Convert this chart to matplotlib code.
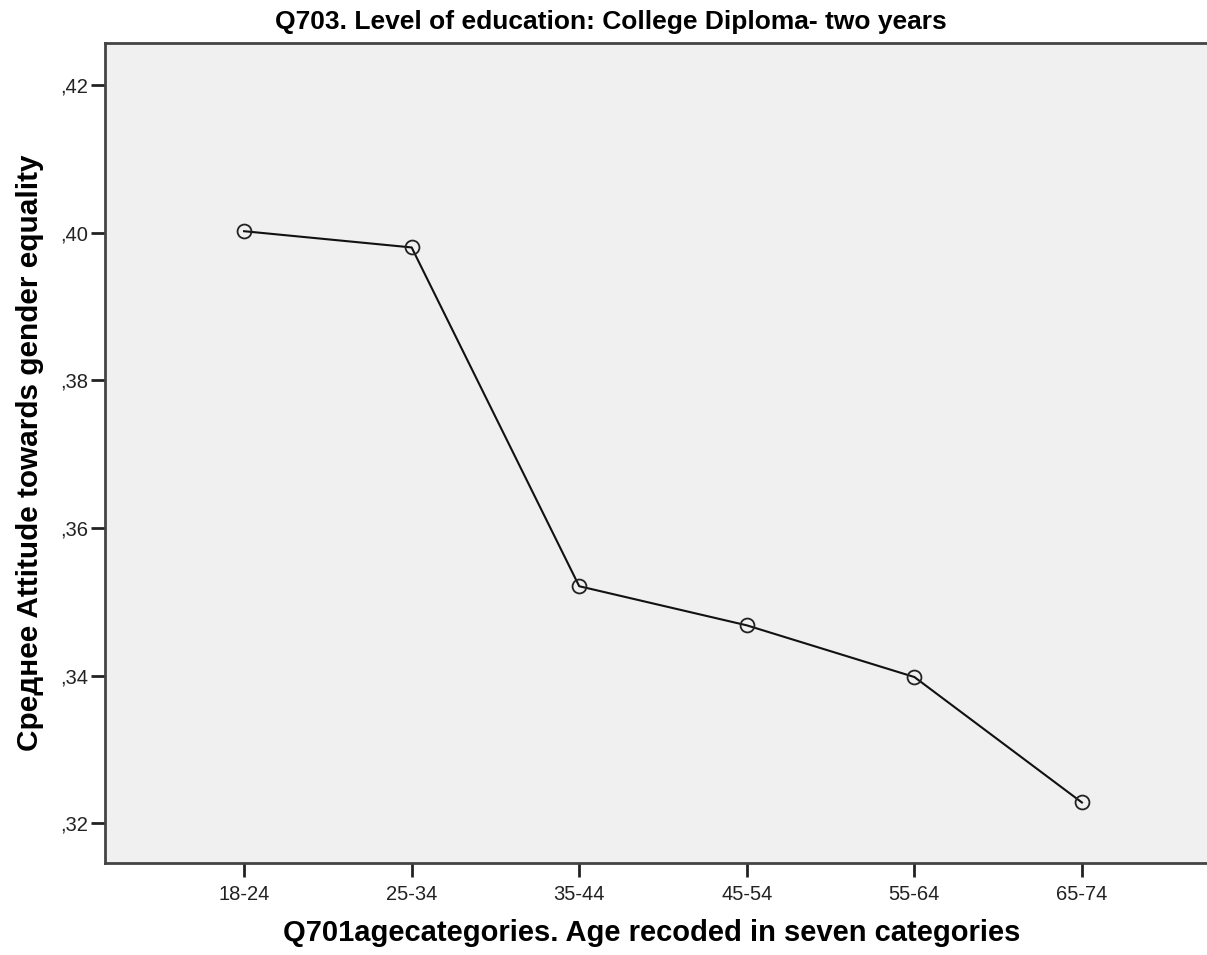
import matplotlib
matplotlib.use("Agg")
import matplotlib.pyplot as plt

# Data
age_groups = ["18-24", "25-34", "35-44", "45-54", "55-64", "65-74"]
mean_attitude = [0.4002, 0.3980, 0.3521, 0.3468, 0.3398, 0.3228]
y_ticks = [0.32, 0.34, 0.36, 0.38, 0.40, 0.42]
y_tick_labels = [",32", ",34", ",36", ",38", ",40", ",42"]

plt.rcParams["font.family"] = ["Liberation Sans", "DejaVu Sans"]

fig = plt.figure(figsize=(12.07, 9.55), dpi=100)
# axes runs past the right edge, as in the original screenshot
ax = fig.add_axes([105 / 1207, 1 - 863 / 955, 1116 / 1207, 820 / 955])
ax.set_facecolor("#f0f0f0")

x = range(len(age_groups))
ax.plot(x, mean_attitude, color="#111111", linewidth=1.5,
        marker="o", markersize=10, markerfacecolor="none",
        markeredgecolor="#222222", markeredgewidth=1.3)

ax.set_xlim(-0.83, 5.83)
ax.set_ylim(0.3146, 0.4257)
ax.set_xticks(list(x))
ax.set_xticklabels(age_groups)
ax.set_yticks(y_ticks)
ax.set_yticklabels(y_tick_labels)

for s in ax.spines.values():
    s.set_color("#444444")
    s.set_linewidth(2)
ax.tick_params(axis="both", colors="#222222", labelsize=14.5,
               width=2, length=10, direction="out")
ax.tick_params(axis="x", pad=6)
ax.tick_params(axis="y", pad=2)

# title is centred on the figure, not on the (clipped) axes
ax.set_title("Q703. Level of education: College Diploma- two years",
             fontsize=19, fontweight="bold", pad=10, x=0.453)
ax.set_xlabel("Q701agecategories. Age recoded in seven categories",
              fontsize=21, fontweight="bold", labelpad=10)
ax.xaxis.set_label_coords(0.49, -0.068)
ax.set_ylabel("Среднее Attitude towards gender equality",
              fontsize=21.4, fontweight="bold", labelpad=12)

fig.savefig("out.png", dpi=100)
